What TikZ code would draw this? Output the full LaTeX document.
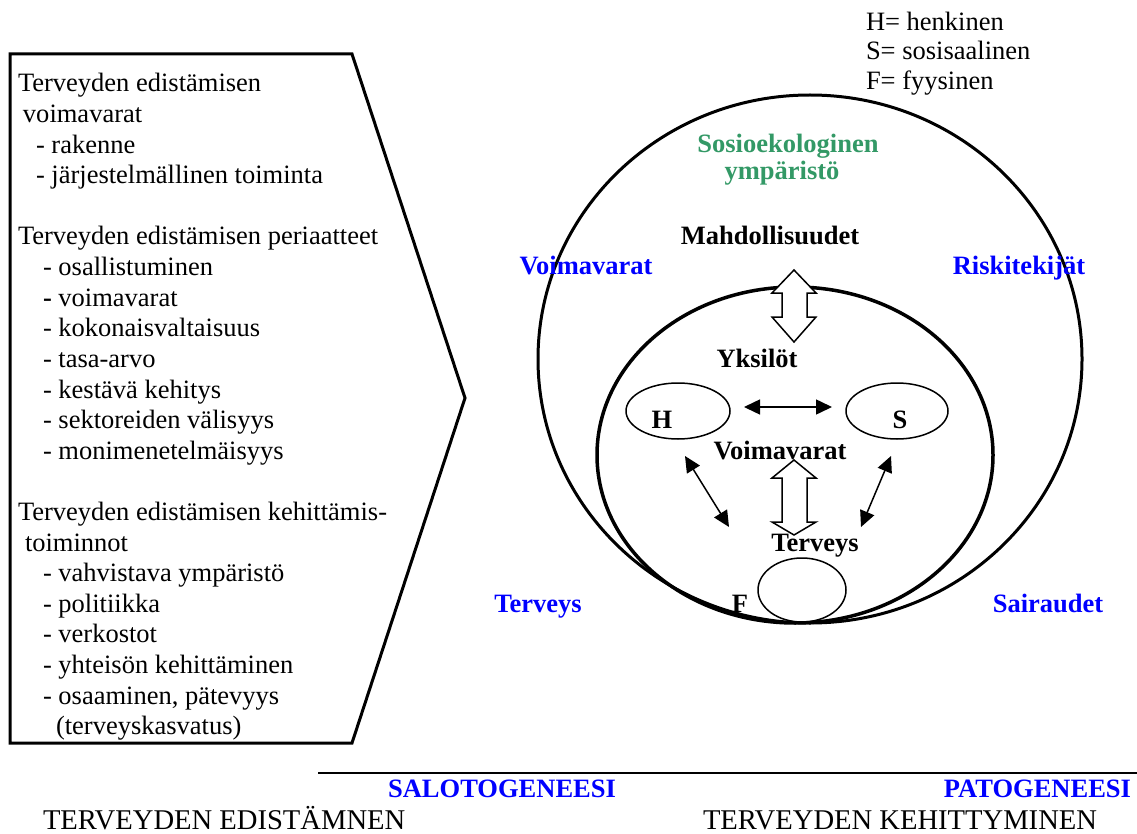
\documentclass[tikz,border=0pt]{standalone}
\usepackage{fontspec}
\setmainfont{Liberation Serif}
\usetikzlibrary{arrows.meta,shapes.geometric}
\definecolor{ecogreen}{RGB}{51,153,102}
\definecolor{factorblue}{RGB}{0,0,255}
\begin{document}
\begin{tikzpicture}[x=1pt,y=-1pt,
  every node/.style={inner sep=0pt,outer sep=0pt,font=\fontsize{26.5}{30.6}\selectfont},
  listline/.style={anchor=base west},
  boldlabel/.style={anchor=base,font=\fontsize{26.5}{30.6}\selectfont\bfseries},
  bluelabel/.style={boldlabel,text=factorblue},
  biglabel/.style={anchor=base west,font=\fontsize{28.6}{32}\selectfont},
  smallring/.style={draw,ellipse,line width=1.5pt},
  thinarrow/.style={line width=1.5pt,{Triangle[length=16pt,width=15pt]}-{Triangle[length=16pt,width=15pt]}},
  blockarrow/.style={draw,fill=white,line width=1.5pt,line join=miter}
]
\fill[white] (0,0) rectangle (1137,834);
\useasboundingbox (0,0) rectangle (1137,834);

% pentagon arrow holding the list of health promotion themes
\draw[line width=3pt,line join=miter] (10,54) -- (352,54) -- (465,398) -- (352,743) -- (10,743) -- cycle;

\foreach \x/\n/\t in {
  18/0/{Terveyden edistämisen},
  23/1/{voimavarat},
  36/2/{- rakenne},
  36/3/{- järjestelmällinen toiminta},
  18/5/{Terveyden edistämisen periaatteet},
  43/6/{- osallistuminen},
  43/7/{{\bfseries -} voimavarat},
  43/8/{- kokonaisvaltaisuus},
  43/9/{- tasa-arvo},
  43/10/{- kestävä kehitys},
  43/11/{- sektoreiden välisyys},
  43/12/{- monimenetelmäisyys},
  18/14/{Terveyden edistämisen kehittämis-},
  25/15/{toiminnot},
  43/16/{- vahvistava ympäristö},
  43/17/{- politiikka},
  43/18/{- verkostot},
  43/19/{- yhteisön kehittäminen},
  43/20/{- osaaminen, pätevyys},
  56/21/{(terveyskasvatus)}}
  \node[listline] (line\n) at ({\x},{92+30.6*\n}) {\t};

% legend
\node[listline] (legH) at (866,31) {H= henkinen};
\node[listline] (legS) at (866,60) {S= sosisaalinen};
\node[listline] (legF) at (866,90) {F= fyysinen};

% socio-ecological environment and the individual
\draw[line width=3pt] (810,359) ellipse [x radius=272, y radius=264];
\draw[line width=3.5pt] (795,455) ellipse [x radius=198, y radius=168];

\node[smallring,minimum width=104pt,minimum height=56pt] (ringH) at (678,411) {};
\node[smallring,minimum width=102pt,minimum height=56pt] (ringS) at (897,411) {};
\node[smallring,minimum width=88pt,minimum height=64pt] (ringF) at (802,590) {};

% block arrows
\draw[blockarrow] (794,270) -- (816,293) -- (807,293) -- (807,317) -- (816,317) -- (794,342)
  -- (772,317) -- (782,317) -- (782,293) -- (772,293) -- cycle;
\draw[blockarrow] (794,460) -- (816,478) -- (807,478) -- (807,522) -- (816,522) -- (794,535)
  -- (772,522) -- (782,522) -- (782,478) -- (772,478) -- cycle;

% links between the dimensions of health
\coordinate (hsA) at (744,407);
\coordinate (hsB) at (832,407);
\coordinate (hfA) at (685,456);
\coordinate (hfB) at (729,527);
\coordinate (sfA) at (891,456);
\coordinate (sfB) at (861,527);
\draw[thinarrow] (hsA) -- (hsB);
\draw[thinarrow] (hfA) -- (hfB);
\draw[thinarrow] (sfA) -- (sfB);

% labels
\node[boldlabel,text=ecogreen] (eco1) at (788,153) {Sosioekologinen};
\node[boldlabel,text=ecogreen] (eco2) at (782,180) {ympäristö};
\node[boldlabel] (mahd) at (770,245) {Mahdollisuudet};
\node[bluelabel] (voimaOut) at (586,275) {Voimavarat};
\node[bluelabel] (riski) at (1019,275) {Riskitekijät};
\node[boldlabel] (yksi) at (757,367) {Yksilöt};
\node[boldlabel] (voimaIn) at (780,459) {Voimavarat};
\node[boldlabel] (tervIn) at (815,551) {Terveys};
\node[boldlabel] (labH) at (662,428) {H};
\node[boldlabel] (labS) at (900,428) {S};
\node[boldlabel] (labF) at (740,612) {F};
\node[bluelabel] (tervOut) at (538,612) {Terveys};
\node[bluelabel] (sair) at (1048,612) {Sairaudet};

% continuum at the bottom
\coordinate (axisL) at (318,773);
\coordinate (axisR) at (1137,773);
\draw[line width=2pt] (axisL) -- (axisR);
\node[bluelabel] (salo) at (502,797) {SALOTOGENEESI};
\node[bluelabel,anchor=base east] (pato) at (1131,797) {PATOGENEESI};
\node[biglabel] (edist) at (43,829) {TERVEYDEN EDISTÄMNEN};
\node[biglabel] (kehit) at (703,829) {TERVEYDEN KEHITTYMINEN};
\end{tikzpicture}
\end{document}
